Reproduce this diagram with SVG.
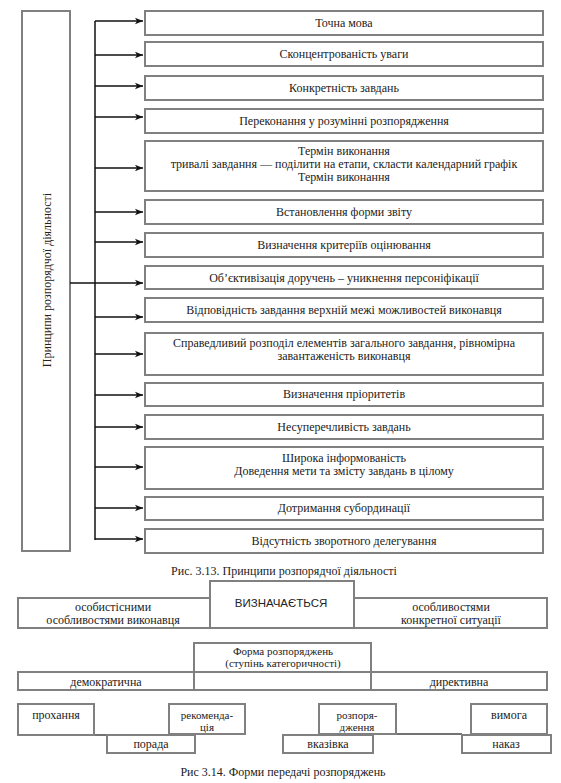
<svg xmlns="http://www.w3.org/2000/svg" width="561" height="783" viewBox="0 0 561 783">
<defs>
<style>
.b{fill:#fff;stroke:#808080;stroke-width:2}
.t{font-family:"Liberation Serif","Times New Roman",serif;font-size:12px;fill:#222;text-anchor:middle}
.u{font-family:"Liberation Serif","Times New Roman",serif;font-size:11px;fill:#222;text-anchor:middle}
.s{font-family:"Liberation Sans",Arial,sans-serif;font-size:11.5px;fill:#222;text-anchor:middle}
.c{stroke:#111;stroke-width:1.5;fill:none}
.l{stroke:#444;stroke-width:1.5;fill:none}
</style>
<marker id="ah" viewBox="0 0 10 10" refX="10" refY="5" markerWidth="8" markerHeight="8" markerUnits="userSpaceOnUse" orient="auto">
<path d="M0,1 L10,5 L0,9 L2.5,5 Z" fill="#111"/>
</marker>
</defs>
<rect width="561" height="783" fill="#fff"/>

<g id="root">
<rect class="b" x="22" y="11" width="48" height="540"/>
<text class="t" transform="translate(51,280) rotate(-90)">Принципи розпорядчої діяльності</text>
</g>

<g id="connectors">
<line class="c" x1="95" y1="21" x2="95" y2="540"/>
<line class="c" x1="70" y1="283" x2="143" y2="283" marker-end="url(#ah)"/>
<line class="c" x1="95" y1="21" x2="143" y2="21" marker-end="url(#ah)"/>
<line class="c" x1="95" y1="55" x2="143" y2="55" marker-end="url(#ah)"/>
<line class="c" x1="95" y1="86" x2="143" y2="86" marker-end="url(#ah)"/>
<line class="c" x1="95" y1="117" x2="143" y2="117" marker-end="url(#ah)"/>
<line class="c" x1="95" y1="168" x2="143" y2="168" marker-end="url(#ah)"/>
<line class="c" x1="95" y1="212" x2="143" y2="212" marker-end="url(#ah)"/>
<line class="c" x1="95" y1="242" x2="143" y2="242" marker-end="url(#ah)"/>
<line class="c" x1="95" y1="317" x2="143" y2="317" marker-end="url(#ah)"/>
<line class="c" x1="95" y1="354" x2="143" y2="354" marker-end="url(#ah)"/>
<line class="c" x1="95" y1="395" x2="143" y2="395" marker-end="url(#ah)"/>
<line class="c" x1="95" y1="427" x2="143" y2="427" marker-end="url(#ah)"/>
<line class="c" x1="95" y1="467" x2="143" y2="467" marker-end="url(#ah)"/>
<line class="c" x1="95" y1="508" x2="143" y2="508" marker-end="url(#ah)"/>
<line class="c" x1="95" y1="539" x2="143" y2="539" marker-end="url(#ah)"/>
</g>

<g id="n1"><rect class="b" x="145" y="11" width="398" height="24"/><text class="t" x="344" y="27">Точна мова</text></g>
<g id="n2"><rect class="b" x="145" y="42" width="398" height="24"/><text class="t" x="344" y="58">Сконцентрованість уваги</text></g>
<g id="n3"><rect class="b" x="145" y="76" width="398" height="24"/><text class="t" x="344" y="92">Конкретність завдань</text></g>
<g id="n4"><rect class="b" x="145" y="109" width="398" height="24"/><text class="t" x="344" y="125">Переконання у розумінні розпорядження</text></g>
<g id="n5"><rect class="b" x="145" y="141" width="398" height="50"/>
<text class="t" x="344" y="155">Термін виконання</text>
<text class="t" x="344" y="168">тривалі завдання — поділити на етапи, скласти календарний графік</text>
<text class="t" x="344" y="181">Термін виконання</text></g>
<g id="n6"><rect class="b" x="145" y="200" width="398" height="24"/><text class="t" x="344" y="216">Встановлення форми звіту</text></g>
<g id="n7"><rect class="b" x="145" y="233" width="398" height="24"/><text class="t" x="344" y="249">Визначення критеріїв оцінювання</text></g>
<g id="n8"><rect class="b" x="145" y="266" width="398" height="23"/><text class="t" x="344" y="282">Об’єктивізація доручень – уникнення персоніфікації</text></g>
<g id="n9"><rect class="b" x="145" y="298" width="398" height="24"/><text class="t" x="344" y="314">Відповідність завдання верхній межі можливостей виконавця</text></g>
<g id="n10"><rect class="b" x="145" y="333" width="398" height="42"/>
<text class="t" x="344" y="347">Справедливий розподіл елементів загального завдання, рівномірна</text>
<text class="t" x="344" y="360">завантаженість виконавця</text></g>
<g id="n11"><rect class="b" x="145" y="383" width="398" height="23"/><text class="t" x="344" y="398">Визначення пріоритетів</text></g>
<g id="n12"><rect class="b" x="145" y="415" width="398" height="24"/><text class="t" x="344" y="431">Несуперечливість завдань</text></g>
<g id="n13"><rect class="b" x="145" y="447" width="398" height="42"/>
<text class="t" x="344" y="462">Широка інформованість</text>
<text class="t" x="344" y="475">Доведення мети та змісту завдань в цілому</text></g>
<g id="n14"><rect class="b" x="145" y="497" width="398" height="23"/><text class="t" x="344" y="512">Дотримання субординації</text></g>
<g id="n15"><rect class="b" x="145" y="529" width="398" height="24"/><text class="t" x="344" y="545">Відсутність зворотного делегування</text></g>

<text class="t" x="284" y="575">Рис. 3.13. Принципи розпорядчої діяльності</text>

<g id="f14">
<g id="personal"><rect class="b" x="18" y="598" width="192" height="30"/>
<text class="t" x="113" y="611">особистісними</text>
<text class="t" x="113" y="624">особливостями виконавця</text></g>
<g id="situation"><rect class="b" x="354" y="598" width="193" height="30"/>
<text class="t" x="451" y="611">особливостями</text>
<text class="t" x="451" y="624">конкретної ситуації</text></g>
<g id="determined"><rect class="b" x="210" y="581" width="144" height="47"/>
<text class="s" x="281" y="607">ВИЗНАЧАЄТЬСЯ</text></g>

<g id="strip"><rect class="b" x="18" y="672" width="529" height="18"/>
<line class="b" x1="194" y1="672" x2="194" y2="690"/>
<line class="b" x1="371" y1="672" x2="371" y2="690"/></g>
<g id="form"><rect class="b" x="194" y="643" width="177" height="29"/>
<text class="u" x="283" y="655">Форма розпоряджень</text>
<text class="u" x="283" y="667">(ступінь категоричності)</text></g>
<g id="democratic"><text class="t" x="106" y="686">демократична</text></g>
<g id="directive"><text class="t" x="459" y="686">директивна</text></g>

<g id="links">
<line class="l" x1="94" y1="735" x2="107" y2="735"/>
<line class="l" x1="396" y1="734" x2="462" y2="734"/>
</g>
<g id="request"><rect class="b" x="18" y="704" width="76" height="31"/><text class="t" x="56" y="719">прохання</text></g>
<g id="advice"><rect class="b" x="107" y="735" width="88" height="18"/><text class="t" x="151" y="748">порада</text></g>
<g id="recommendation"><rect class="b" x="169" y="704" width="76" height="30"/>
<text class="u" x="207" y="719">рекоменда-</text><text class="u" x="207" y="731">ція</text></g>
<g id="instruction"><rect class="b" x="283" y="735" width="90" height="18"/><text class="t" x="328" y="748">вказівка</text></g>
<g id="order"><rect class="b" x="319" y="704" width="77" height="30"/>
<text class="u" x="357" y="719">розпоря-</text><text class="u" x="357" y="731">дження</text></g>
<g id="demand"><rect class="b" x="471" y="704" width="76" height="30"/><text class="t" x="509" y="719">вимога</text></g>
<g id="command"><rect class="b" x="462" y="735" width="89" height="18"/><text class="t" x="506" y="748">наказ</text></g>
</g>

<text class="t" x="283" y="776">Рис 3.14. Форми передачі розпоряджень</text>
</svg>
